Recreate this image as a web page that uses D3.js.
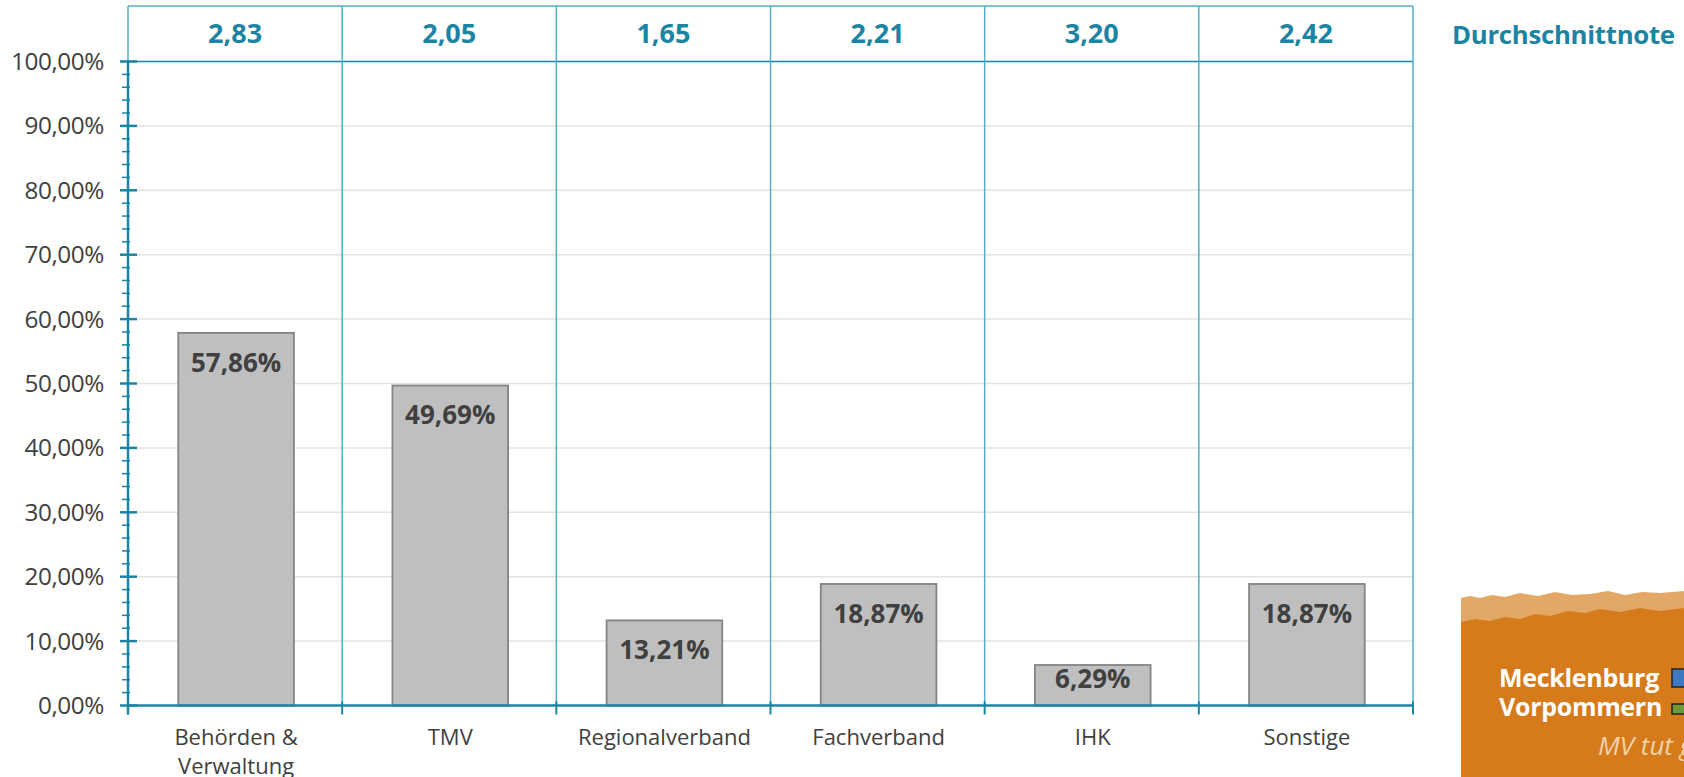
<!DOCTYPE html>
<html>
<head>
<meta charset="utf-8">
<script src="https://cdn.jsdelivr.net/npm/d3@7"></script>
<style>
  body { margin: 0; background: #fff; }
  svg text { font-family: "Open Sans", "Noto Sans", sans-serif; }
</style>
</head>
<body>
<div id="wrapper"></div>
<script>
const categories = ["Behörden & Verwaltung", "TMV", "Regionalverband", "Fachverband", "IHK", "Sonstige"]
const shares = [57.86, 49.69, 13.21, 18.87, 6.29, 18.87]
const averages = [2.83, 2.05, 1.65, 2.21, 3.20, 2.42]
const yTicks = [0, 10, 20, 30, 40, 50, 60, 70, 80, 90, 100]
const averageTitle = "Durchschnittnote"

const teal = "#1b84a3"
const tealLight = "#56aec4"
const fmt = (v, d) => v.toFixed(d).replace(".", ",")

let dimensions = {
  width: 1684,
  height: 777,
  left: 128,
  right: 1413,
  top: 6,
  headerBottom: 61.5,
  bottom: 705.5
}

const svg = d3.select("#wrapper")
  .append("svg")
    .attr("width", dimensions.width)
    .attr("height", dimensions.height)

const xScale = d3.scaleBand()
  .domain(categories)
  .range([dimensions.left, dimensions.right])
  .padding(0)

const yScale = d3.scaleLinear()
  .domain([0, 100])
  .range([dimensions.bottom, dimensions.headerBottom])

const barWidth = xScale.bandwidth() * 0.54

// gridlines
svg.append("g")
  .selectAll("line")
  .data(yTicks.filter(d => d > 0 && d < 100))
  .enter().append("line")
    .attr("x1", dimensions.left)
    .attr("x2", dimensions.right)
    .attr("y1", d => yScale(d))
    .attr("y2", d => yScale(d))
    .attr("stroke", "#e3e3e3")
    .attr("stroke-width", 1.5)

// header box + category separators
const header = svg.append("g")
header.append("line")
  .attr("x1", dimensions.left).attr("x2", dimensions.right)
  .attr("y1", dimensions.top).attr("y2", dimensions.top)
  .attr("stroke", tealLight).attr("stroke-width", 1.5)
header.append("line")
  .attr("x1", dimensions.left).attr("x2", dimensions.right)
  .attr("y1", yScale(100)).attr("y2", yScale(100))
  .attr("stroke", teal).attr("stroke-width", 1.5)
header.selectAll(".sep")
  .data(categories.slice(1).concat([null]))
  .enter().append("line")
    .attr("class", "sep")
    .attr("x1", (d, i) => dimensions.left + xScale.step() * (i + 1))
    .attr("x2", (d, i) => dimensions.left + xScale.step() * (i + 1))
    .attr("y1", dimensions.top)
    .attr("y2", dimensions.bottom)
    .attr("stroke", tealLight)
    .attr("stroke-width", 1.5)
header.append("line")
  .attr("x1", dimensions.left).attr("x2", dimensions.left)
  .attr("y1", dimensions.top).attr("y2", yScale(100))
  .attr("stroke", tealLight).attr("stroke-width", 1.5)

header.selectAll(".avg")
  .data(averages)
  .enter().append("text")
    .attr("class", "avg")
    .attr("x", (d, i) => xScale(categories[i]) + xScale.bandwidth() / 2)
    .attr("y", 43)
    .attr("text-anchor", "middle")
    .attr("font-size", 27)
    .attr("font-weight", 700)
    .attr("fill", teal)
    .text(d => fmt(d, 2))

svg.append("text")
  .attr("x", 1452)
  .attr("y", 44)
  .attr("font-size", 25.8)
  .attr("font-weight", 700)
  .attr("fill", teal)
  .attr("letter-spacing", -0.3)
  .text(averageTitle)

// bars
const bars = svg.append("g")
  .selectAll("g")
  .data(shares)
  .enter().append("g")

bars.append("rect")
  .attr("x", (d, i) => xScale(categories[i]) + (xScale.bandwidth() - barWidth) / 2 + 1)
  .attr("y", d => yScale(d))
  .attr("width", barWidth)
  .attr("height", d => yScale(0) - yScale(d))
  .attr("fill", "#bfbfbf")
  .attr("stroke", "#848484")
  .attr("stroke-width", 1.8)

bars.append("text")
  .attr("x", (d, i) => xScale(categories[i]) + xScale.bandwidth() / 2 + 1)
  .attr("y", d => yScale(d) + Math.min(39, (yScale(0) - yScale(d)) * 0.56))
  .attr("text-anchor", "middle")
  .attr("font-size", 26)
  .attr("font-weight", 700)
  .attr("fill", "#404040")
  .text(d => fmt(d, 2) + "%")

// y axis with minor ticks
const yAxis = svg.append("g")
yAxis.append("line")
  .attr("x1", dimensions.left).attr("x2", dimensions.left)
  .attr("y1", yScale(100) - 1).attr("y2", dimensions.bottom + 9)
  .attr("stroke", teal).attr("stroke-width", 2.5)
yAxis.selectAll(".minor")
  .data(d3.range(0, 101, 2).filter(d => d % 10 !== 0))
  .enter().append("line")
    .attr("x1", 122).attr("x2", dimensions.left + 2)
    .attr("y1", d => yScale(d)).attr("y2", d => yScale(d))
    .attr("stroke", teal).attr("stroke-width", 1.5)
yAxis.selectAll(".major")
  .data(yTicks)
  .enter().append("line")
    .attr("x1", 120).attr("x2", 137)
    .attr("y1", d => yScale(d)).attr("y2", d => yScale(d))
    .attr("stroke", teal).attr("stroke-width", 2.5)
yAxis.selectAll("text")
  .data(yTicks)
  .enter().append("text")
    .attr("x", 104)
    .attr("y", d => yScale(d) + 8.5)
    .attr("text-anchor", "end")
    .attr("font-size", 24.3)
    .attr("fill", "#404040")
    .attr("letter-spacing", -0.4)
    .text(d => fmt(d, 2) + "%")

// x axis
const xAxis = svg.append("g")
xAxis.append("line")
  .attr("x1", dimensions.left).attr("x2", dimensions.right)
  .attr("y1", dimensions.bottom).attr("y2", dimensions.bottom)
  .attr("stroke", teal).attr("stroke-width", 2.5)
xAxis.selectAll(".xt")
  .data(d3.range(categories.length + 1))
  .enter().append("line")
    .attr("x1", d => dimensions.left + d * xScale.step())
    .attr("x2", d => dimensions.left + d * xScale.step())
    .attr("y1", dimensions.bottom - 4)
    .attr("y2", dimensions.bottom + 9)
    .attr("stroke", teal).attr("stroke-width", 2)

xAxis.selectAll(".xl")
  .data(categories)
  .enter().append("text")
    .attr("class", "xl")
    .attr("text-anchor", "middle")
    .attr("font-size", 22)
    .attr("fill", "#404040")
    .each(function(d) {
      const lines = d.includes("&") ? d.split(/(?<=&) /) : [d]
      d3.select(this).selectAll("tspan")
        .data(lines)
        .enter().append("tspan")
          .attr("x", xScale(d) + xScale.bandwidth() / 2 + 1)
          .attr("y", (l, i) => 745 + i * 29)
          .text(l => l)
    })

// logo
const logo = svg.append("g")
logo.append("path")
  .attr("d", "M1461,598 L1470,596 L1480,598 L1492,595 L1505,597 L1520,593 L1538,596 L1555,592 L1572,595 L1590,594 L1608,591 L1625,595 L1642,592 L1660,593 L1684,591 L1684,777 L1461,777 Z")
  .attr("fill", "#e4a866")
logo.append("path")
  .attr("d", "M1461,622 L1475,619 L1490,621 L1505,617 L1520,619 L1535,614 L1550,616 L1568,611 L1585,613 L1600,609 L1620,612 L1640,608 L1660,611 L1684,608 L1684,777 L1461,777 Z")
  .attr("fill", "#d67b1c")
logo.append("text")
  .attr("x", 1499).attr("y", 687)
  .attr("font-size", 25).attr("font-weight", 700).attr("fill", "#fff")
  .attr("letter-spacing", -0.3)
  .text("Mecklenburg")
logo.append("text")
  .attr("x", 1499).attr("y", 716)
  .attr("font-size", 25).attr("font-weight", 700).attr("fill", "#fff")
  .attr("letter-spacing", -0.3)
  .text("Vorpommern")
logo.append("text")
  .attr("x", 1598).attr("y", 755)
  .attr("font-size", 26).attr("font-style", "italic").attr("fill", "#f1d3a8")
  .attr("font-family", "DejaVu Serif")
  .text("MV tut g")
logo.append("rect").attr("x", 1672).attr("y", 669).attr("width", 16).attr("height", 18).attr("fill", "#3d78c2").attr("stroke", "#222").attr("stroke-width", 1.5)
logo.append("rect").attr("x", 1672).attr("y", 704).attr("width", 16).attr("height", 10).attr("fill", "#6f9a3a").attr("stroke", "#222").attr("stroke-width", 1.5)
</script>
</body>
</html>
